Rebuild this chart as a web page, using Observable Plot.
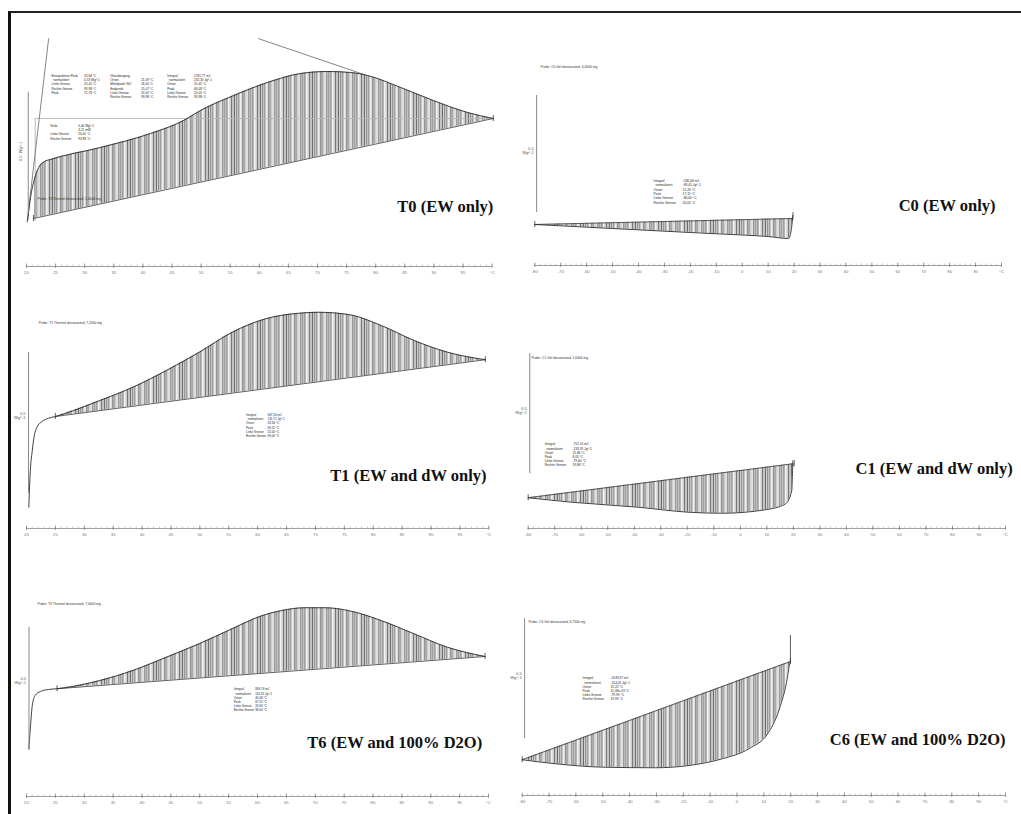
<!DOCTYPE html>
<html><head><meta charset="utf-8">
<script src="https://cdn.jsdelivr.net/npm/d3@7"></script>
<script src="https://cdn.jsdelivr.net/npm/@observablehq/plot@0.6"></script>
<style>
body{margin:0;background:#fff;}
#wrap{position:relative;width:1021px;height:814px;overflow:hidden;background:#fff;}
#frame{position:absolute;left:8px;top:11px;width:1030px;height:820px;border-top:2px solid #222;border-left:3px solid #111;z-index:5;}
.panel{position:absolute;}
.panel svg{background:transparent;}
</style></head><body>
<div id="wrap">
<svg width="0" height="0" style="position:absolute;left:0;top:0">
<defs>
<pattern id="hatch" patternUnits="userSpaceOnUse" width="26" height="10">
<rect width="26" height="10" fill="#cfcfcf"/>
<rect x="0" width="0.8" height="10" fill="#555"/>
<rect x="2" width="1.2" height="10" fill="#959595"/>
<rect x="4.5" width="0.6" height="10" fill="#707070"/>
<rect x="6" width="1.4" height="10" fill="#efefef"/>
<rect x="8.5" width="0.8" height="10" fill="#5c5c5c"/>
<rect x="10" width="1" height="10" fill="#aaaaaa"/>
<rect x="12.5" width="1.1" height="10" fill="#ebebeb"/>
<rect x="14.5" width="0.7" height="10" fill="#666"/>
<rect x="16" width="1.3" height="10" fill="#a0a0a0"/>
<rect x="18.5" width="0.8" height="10" fill="#757575"/>
<rect x="20" width="1.5" height="10" fill="#f2f2f2"/>
<rect x="23" width="0.8" height="10" fill="#626262"/>
<rect x="24.5" width="1" height="10" fill="#bababa"/>
</pattern>
</defs>
</svg>
<div id="frame"></div>
</div>
<script>
// ---- tick data ----
const tTicks = [20,25,30,35,40,45,50,55,60,65,70,75,80,85,90,95,100];
const tTickLabels = ["20","25","30","35","40","45","50","55","60","65","70","75","80","85","90","95","°C"];
const cTicks = [-80,-70,-60,-50,-40,-30,-20,-10,0,10,20,30,40,50,60,70,80,90,100];
const cTickLabels = ["-80","-70","-60","-50","-40","-30","-20","-10","0","10","20","30","40","50","60","70","80","90","°C"];
const tMinor = d3.range(20, 100.01, 1);
const cMinor = d3.range(-80, 100.01, 2);

// ---- T0 (EW only) ----
const t0Temp = [20.2,20.5,20.9,21.4,22.1,23.1,24.1,32.7,41.3,47.0,49.9,55.6,61.4,67.1,71.7,75.7,78.6,84.3,89.9,95.8,100.2];
const t0Flow = [0.184,0.244,0.304,0.352,0.396,0.42,0.428,0.476,0.532,0.584,0.624,0.684,0.736,0.772,0.78,0.776,0.764,0.716,0.664,0.616,0.592];
const t0BaseTemp = [21.2,100.2];
const t0BaseFlow = [0.192,0.592];
const t0Tangent1Temp = [20.1,23.8];
const t0Tangent1Flow = [0.177,0.911];
const t0Tangent2Temp = [59.9,78.0];
const t0Tangent2Flow = [0.911,0.768];
const t0StepTemp = [21.5,21.5,100.2];
const t0StepFlow = [0.184,0.592,0.592];

// ---- T1 (EW and dW only) ----
const t1Temp = [20.4,20.6,21.0,21.3,21.8,22.7,23.8,25.0,32.7,38.4,44.2,49.9,55.6,61.4,67.1,70.5,75.7,81.4,87.1,92.9,99.4];
const t1Flow = [0.085,0.205,0.312,0.365,0.405,0.428,0.441,0.448,0.512,0.565,0.632,0.705,0.785,0.839,0.861,0.865,0.856,0.812,0.752,0.705,0.675];
const t1BaseTemp = [25.0,99.4];
const t1BaseFlow = [0.448,0.675];

// ---- T6 (EW and 100% D2O) ----
const t6Temp = [20.4,20.7,21.0,21.5,22.4,23.8,25.3,32.7,38.4,44.2,49.9,55.6,60.5,64.2,68.2,71.7,75.7,81.4,87.1,92.9,99.4];
const t6Flow = [0.191,0.284,0.364,0.404,0.42,0.428,0.431,0.464,0.504,0.557,0.611,0.671,0.721,0.744,0.755,0.755,0.744,0.704,0.651,0.597,0.56];
const t6BaseTemp = [25.3,99.4];
const t6BaseFlow = [0.431,0.56];

// ---- C0 (EW only) ----
const c0Temp = [-80,-50,-20,0,10,17.8,19.0,19.4];
const c0Flow = [0.164,0.148,0.132,0.122,0.116,0.108,0.148,0.188];
const c0BaseTemp = [-80,19.4];
const c0BaseFlow = [0.164,0.188];
const c0SpikeTemp = [19.6,19.6];
const c0SpikeFlow = [0.188,0.212];

// ---- C1 (EW and dW only) ----
const c1Temp = [-80,-63.4,-38.3,-19.4,-6.8,9.5,17.1,19.4,19.7,19.8];
const c1Flow = [0.123,0.105,0.085,0.065,0.061,0.075,0.099,0.152,0.232,0.259];
const c1BaseTemp = [-80,19.8];
const c1BaseFlow = [0.123,0.259];
const c1SpikeTemp = [20.3,20.3];
const c1SpikeFlow = [0.250,0.272];

// ---- C6 (EW and 100% D2O) ----
const c6Temp = [-80,-67.6,-49,-30.4,-17.9,-5.5,4.4,11.8,16.2,18.7,19.5,19.9];
const c6Flow = [0.143,0.127,0.113,0.111,0.12,0.147,0.187,0.253,0.36,0.467,0.52,0.536];
const c6BaseTemp = [-80,19.9];
const c6BaseFlow = [0.143,0.536];
const c6SpikeTemp = [19.9,19.9];
const c6SpikeFlow = [0.536,0.64];

// ---- texts ----
const intLabels = ["Integral","  normalisiert","Onset","Peak","Linke Grenze","Rechte Grenze"];
const t0Block1Labels = ["Extrapolierter Peak","  normalisiert","Linke Grenze","Rechte Grenze","Peak"];
const t0Block1Values = ["53,84 °C","0,53 Wg^-1","20,45 °C","93,98 °C","71,78 °C"];
const t0Block2Labels = ["Glasübergang","Onset","Mittelpunkt ISO","Endpunkt","Linke Grenze","Rechte Grenze"];
const t0Block2Values = ["","21,09 °C","26,40 °C","25,07 °C","20,00 °C","93,98 °C"];
const t0Block3Values = ["1781,77 mJ","232,35 Jg^-1","20,45 °C","68,48 °C","20,00 °C","93,98 °C"];
const t0Block4Labels = ["Stufe","","Linke Grenze","Rechte Grenze"];
const t0Block4Values = ["0,40 Wg^-1","3,21 mW","20,00 °C","93,98 °C"];
const t1Values = ["947,24 mJ","131,71 Jg^-1","33,34 °C","69,12 °C","25,00 °C","99,00 °C"];
const t6Values = ["849,74 mJ","115,91 Jg^-1","40,08 °C","67,55 °C","24,90 °C","99,00 °C"];
const c0Values = ["-536,46 mJ","-89,41 Jg^-1","15,20 °C","17,11 °C","-80,00 °C","20,01 °C"];
const c1Values = ["-752,14 mJ","-133,35 Jg^-1","15,86 °C","8,05 °C","-79,60 °C","19,86 °C"];
const c6Values = ["-1039,57 mJ","-154,01 Jg^-1","15,22 °C","11,08e-03 °C","-79,99 °C","19,99 °C"];
const probes = {
  T0: "Probe: T0 Thermal denaturated, 5,4000 mg",
  C0: "Probe: C0 Gel denaturated, 6,0000 mg",
  T1: "Probe: T1 Thermal denaturated, 7,2000 mg",
  C1: "Probe: C1 Gel denaturated, 5,6400 mg",
  T6: "Probe: T6 Thermal denaturated, 7,4000 mg",
  C6: "Probe: C6 Gel denaturated, 6,7500 mg"
};
const titles = {
  T0: "T0 (EW only)", C0: "C0 (EW only)",
  T1: "T1 (EW and dW only)", C1: "C1 (EW and dW only)",
  T6: "T6 (EW and 100% D2O)", C6: "C6 (EW and 100% D2O)"
};
const scaleLabel = "0,5\nWg^-1";

// ---- helpers ----
function rows(ts, vs){ return ts.map((T,i)=>({T, v: vs[i]})); }
function hatchRows(ts, vs, bt, bv){
  const base = d3.scaleLinear().domain(bt).range(bv);
  return rows(ts, vs).filter(d => d.T >= bt[0]-1e-9 && d.T <= bt[1]+1e-9)
    .map(d => ({T: d.T, v: d.v, b: base(d.T)}));
}
const FONT = "Liberation Sans, Arial, sans-serif";

function block(b){
  const st = {fontSize: b.fs, lineHeight: b.lh, fill: "#222", fontFamily: FONT, textAnchor: "start", lineAnchor: "top"};
  return [
    Plot.text([b.labels.join("\n")], {x: () => b.at[0], y: () => b.at[1], text: d => d, ...st}),
    Plot.text([b.values.join("\n")], {x: () => b.col2, y: () => b.at[1], text: d => d, ...st})
  ];
}

function makePanel(c){
  const axisPos = c.axisY - c.top;
  const curve = rows(c.curveT, c.curveV);
  const area = hatchRows(c.curveT, c.curveV, c.baseT, c.baseV);
  const base = rows(c.baseT, c.baseV);
  const marks = [
    Plot.areaY(area, {x: "T", y1: "b", y2: "v", fill: "url(#hatch)", curve: "monotone-x"}),
    ...(c.extras || []),
    Plot.line(base, {x: "T", y: "v", stroke: "#3a3a3a", strokeWidth: 0.8}),
    Plot.line(curve, {x: "T", y: "v", stroke: "#2a2a2a", strokeWidth: 0.9, curve: "monotone-x"}),
    Plot.ruleX(base, {x: "T", y1: d => d.v - 0.012, y2: d => d.v + 0.012, stroke: "#333", strokeWidth: 0.8}),
    Plot.ruleX([c.bar], {x: d => d[0], y1: d => d[1], y2: d => d[2], stroke: "#8a8a8a", strokeWidth: 1}),
    c.rotateBar
      ? Plot.text([scaleLabel.replace("\n", "  ")], {x: () => c.bar[0], y: () => c.barLabelY, text: d => d, dx: -8, rotate: -90, fontSize: 4, fill: "#555", fontFamily: FONT})
      : Plot.text([scaleLabel], {x: () => c.bar[0], y: () => c.barLabelY, text: d => d, dx: -3, textAnchor: "end", lineAnchor: "middle", fontSize: 4, lineHeight: 1.1, fill: "#555", fontFamily: FONT}),
    // axis
    Plot.ruleY([0], {stroke: "#777", strokeWidth: 0.7}),
    Plot.ruleX(c.minor, {x: d => d, y1: -0.004, y2: 0.006, stroke: "#999", strokeWidth: 0.5}),
    Plot.ruleX(c.ticks, {x: d => d, y1: -0.008, y2: 0.01, stroke: "#666", strokeWidth: 0.6}),
    Plot.text(c.ticks, {x: d => d, y: () => 0, text: (d, i) => c.labels[i], dy: 4, lineAnchor: "top", fontSize: 4.3, fill: "#777", fontFamily: FONT}),
    // probe
    Plot.text([probes[c.id]], {x: () => c.probeAt[0], y: () => c.probeAt[1], text: d => d, textAnchor: "start", lineAnchor: "top", fontSize: 3.3, fill: "#333", fontFamily: FONT}),
    ...c.blocks.flatMap(block),
    // title
    Plot.text([titles[c.id]], {x: () => c.titleAt[0], y: () => c.titleAt[1], text: d => d, textAnchor: "end", lineAnchor: "bottom", fontSize: 16.5, fontWeight: "bold", fontFamily: "Liberation Serif, Times New Roman, serif", fill: "#111"})
  ];
  const svg = Plot.plot({
    width: c.width, height: c.height,
    marginLeft: c.ml, marginRight: c.mr, marginTop: 0, marginBottom: c.height - axisPos,
    x: {domain: c.xd, axis: null},
    y: {domain: [0, axisPos / 250], axis: null},
    style: {background: "transparent", overflow: "visible", fontFamily: FONT},
    marks
  });
  const div = document.createElement("div");
  div.className = "panel";
  div.style.left = c.left + "px";
  div.style.top = c.top + "px";
  div.style.width = c.width + "px";
  div.style.height = c.height + "px";
  div.appendChild(svg);
  document.getElementById("wrap").appendChild(div);
}

const grayLine = {stroke: "#777", strokeWidth: 0.9};
const panels = [
  {id: "T0", left: 0, top: 12, width: 505, height: 272, axisY: 266, ml: 26, mr: 13.4, xd: [20, 100],
   ticks: tTicks, labels: tTickLabels, minor: tMinor,
   curveT: t0Temp, curveV: t0Flow, baseT: t0BaseTemp, baseV: t0BaseFlow,
   bar: [20.3, 0.212, 0.697], barLabelY: 0.46, rotateBar: true,
   probeAt: [21.9, 0.275],
   blocks: [
     {labels: t0Block1Labels, values: t0Block1Values, at: [24.3, 0.772], col2: 29.9, fs: 3.1, lh: 1.4},
     {labels: t0Block2Labels, values: t0Block2Values, at: [34.4, 0.772], col2: 39.7, fs: 3.1, lh: 1.4},
     {labels: intLabels, values: t0Block3Values, at: [44.2, 0.772], col2: 48.8, fs: 3.1, lh: 1.4},
     {labels: t0Block4Labels, values: t0Block4Values, at: [24.1, 0.572], col2: 28.9, fs: 3.1, lh: 1.4}
   ],
   titleAt: [100.2, 0.22],
   extras: [
     Plot.line(rows(t0StepTemp, t0StepFlow), {x: "T", y: "v", stroke: "#b5b5b5", strokeWidth: 0.9}),
     Plot.line(rows(t0Tangent1Temp, t0Tangent1Flow), {x: "T", y: "v", ...grayLine}),
     Plot.line(rows(t0Tangent2Temp, t0Tangent2Flow), {x: "T", y: "v", ...grayLine})
   ]},
  {id: "C0", left: 505, top: 12, width: 516, height: 272, axisY: 265, ml: 29.3, mr: 20, xd: [-80, 100],
   ticks: cTicks, labels: cTickLabels, minor: cMinor,
   curveT: c0Temp, curveV: c0Flow, baseT: c0BaseTemp, baseV: c0BaseFlow,
   bar: [-79.3, 0.212, 0.68], barLabelY: 0.46,
   probeAt: [-77.8, 0.8],
   blocks: [{labels: intLabels, values: c0Values, at: [-34.2, 0.348], col2: -23.0, fs: 3.3, lh: 1.35}],
   titleAt: [97.7, 0.22],
   extras: [Plot.line(rows(c0SpikeTemp, c0SpikeFlow), {x: "T", y: "v", stroke: "#333", strokeWidth: 0.8})]},
  {id: "T1", left: 0, top: 285, width: 505, height: 258, axisY: 528, ml: 26, mr: 16.7, xd: [20, 100],
   ticks: tTicks, labels: tTickLabels, minor: tMinor,
   curveT: t1Temp, curveV: t1Flow, baseT: t1BaseTemp, baseV: t1BaseFlow,
   bar: [20.35, 0.14, 0.704], barLabelY: 0.452,
   probeAt: [22.1, 0.828],
   blocks: [{labels: intLabels, values: t1Values, at: [58.0, 0.464], col2: 61.7, fs: 3, lh: 1.45}],
   titleAt: [99.6, 0.192]},
  {id: "C1", left: 505, top: 285, width: 516, height: 258, axisY: 528, ml: 22.7, mr: 16, xd: [-80, 100],
   ticks: cTicks, labels: cTickLabels, minor: cMinor,
   curveT: c1Temp, curveV: c1Flow, baseT: c1BaseTemp, baseV: c1BaseFlow,
   bar: [-79.4, 0.219, 0.699], barLabelY: 0.472,
   probeAt: [-78.8, 0.688],
   blocks: [{labels: intLabels, values: c1Values, at: [-73.8, 0.344], col2: -63.3, fs: 3.2, lh: 1.3}],
   titleAt: [102.7, 0.22],
   extras: [Plot.line(rows(c1SpikeTemp, c1SpikeFlow), {x: "T", y: "v", stroke: "#333", strokeWidth: 0.8})]},
  {id: "T6", left: 0, top: 545, width: 505, height: 269, axisY: 796, ml: 26, mr: 17, xd: [20, 100],
   ticks: tTicks, labels: tTickLabels, minor: tMinor,
   curveT: t6Temp, curveV: t6Flow, baseT: t6BaseTemp, baseV: t6BaseFlow,
   bar: [20.43, 0.184, 0.676], barLabelY: 0.464,
   probeAt: [21.9, 0.776],
   blocks: [{labels: intLabels, values: t6Values, at: [55.9, 0.436], col2: 59.6, fs: 3, lh: 1.4}],
   titleAt: [98.9, 0.196]},
  {id: "C6", left: 505, top: 545, width: 516, height: 269, axisY: 795, ml: 16.7, mr: 16, xd: [-80, 100],
   ticks: cTicks, labels: cTickLabels, minor: cMinor,
   curveT: c6Temp, curveV: c6Flow, baseT: c6BaseTemp, baseV: c6BaseFlow,
   bar: [-79.1, 0.227, 0.707], barLabelY: 0.48,
   probeAt: [-77.7, 0.7],
   blocks: [{labels: intLabels, values: c6Values, at: [-57.5, 0.476], col2: -47.1, fs: 3.2, lh: 1.3}],
   titleAt: [100, 0.204],
   extras: [Plot.line(rows(c6SpikeTemp, c6SpikeFlow), {x: "T", y: "v", stroke: "#333", strokeWidth: 0.8})]}
];
panels.forEach(makePanel);
</script>
</body></html>
